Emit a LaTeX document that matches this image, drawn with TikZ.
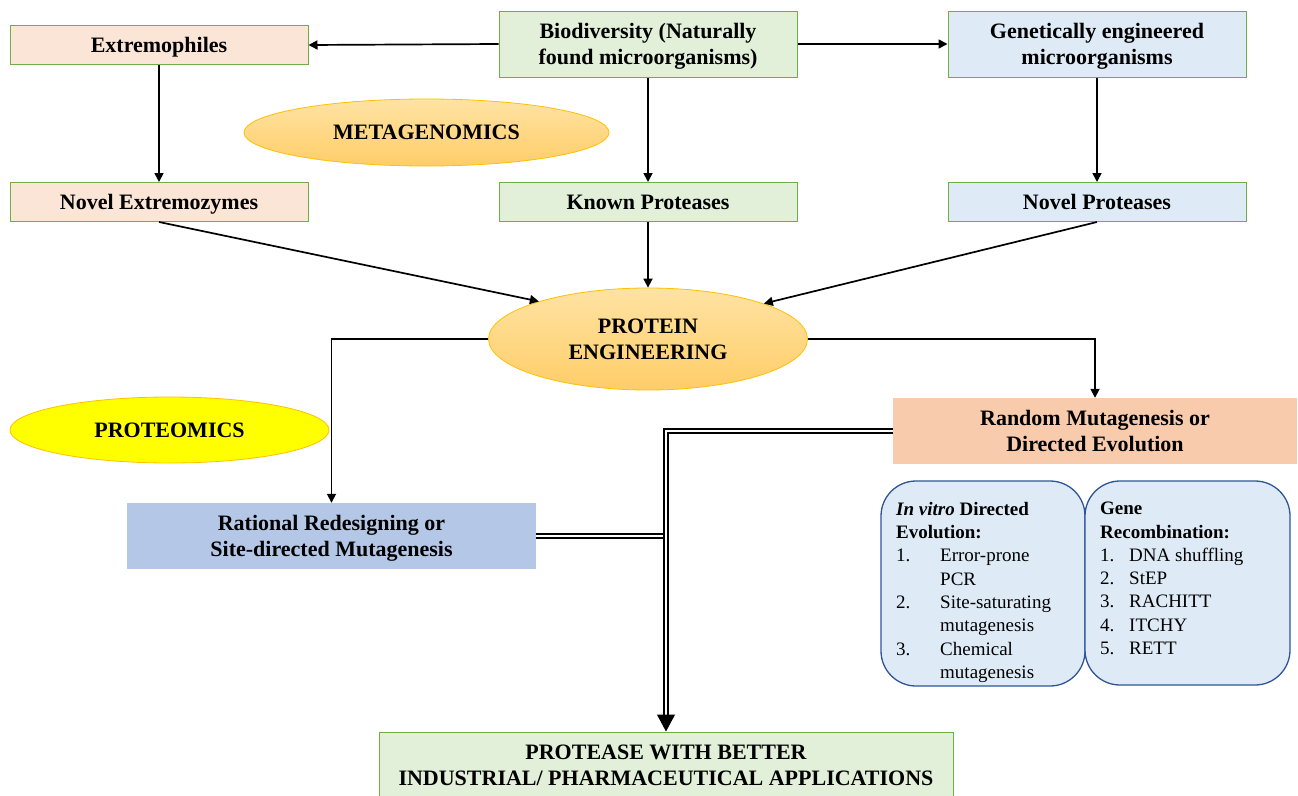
\documentclass[tikz,border=0pt]{standalone}
\usepackage{fontspec}
\setmainfont{Liberation Serif}
\usetikzlibrary{shapes.geometric,arrows.meta,calc}
\definecolor{peach}{HTML}{FBE5D6}
\definecolor{lgreen}{HTML}{E2F0D9}
\definecolor{lblue}{HTML}{DEEBF7}
\definecolor{bgreen}{HTML}{70AD47}
\definecolor{ratblue}{HTML}{B4C7E7}
\definecolor{randpeach}{HTML}{F8CBAD}
\definecolor{rborder}{HTML}{2F5597}
\definecolor{goldtop}{HTML}{FFE3A3}
\definecolor{goldbot}{HTML}{FFCD68}
\definecolor{goldline}{HTML}{FFC000}
\definecolor{yel}{HTML}{FFFF00}
\newcommand\bigbf{\fontsize{22}{26}\selectfont\bfseries}
\newcommand\listfnt{\fontsize{19}{23.3}\selectfont}
\tikzset{
  box/.style={draw=bgreen, line width=1pt, minimum width=298pt, minimum height=39pt, inner sep=0pt, align=center, font=\bigbf},
  plainbox/.style={inner sep=0pt, align=center, font=\bigbf},
  oneline/.style={text depth=0pt},
  twoline/.style={text depth=0pt},
  oval/.style={ellipse, draw=goldline, line width=0.8pt, top color=goldtop, bottom color=goldbot, inner sep=0pt, align=center, font=\bigbf},
  rbox/.style={draw=rborder, fill=lblue, line width=1.3pt, rounded corners=35pt, inner sep=0pt},
  listtxt/.style={inner sep=0pt, align=left, font=\listfnt},
  arr/.style={-{Triangle[length=9pt,width=9pt]}, line width=1.7pt},
  dbl/.style={draw=black, double=white, line width=1.5pt, double distance=2.2pt},
}
\begin{document}
\begin{tikzpicture}[x=1pt,y=-1pt]
\useasboundingbox (0,0) rectangle (1298,795);
\clip (0,0) rectangle (1298,795);
% top row
\node[box, oneline, fill=peach] (extremo) at (159,45) {Extremophiles};
\node[box, twoline, fill=lgreen, minimum height=66pt] (bio) at (648,44) {Biodiversity (Naturally\\found microorganisms)};
\node[box, twoline, fill=lblue, minimum height=66pt] (gen) at (1097,44) {Genetically engineered\\microorganisms};
\node[oval, oneline, minimum width=365pt, minimum height=67pt] (meta) at (426.5,132.5) {METAGENOMICS};
% second row
\node[box, oneline, fill=peach] (novext) at (159,202) {Novel Extremozymes};
\node[box, oneline, fill=lgreen] (known) at (648,202) {Known Proteases};
\node[box, oneline, fill=lblue] (novprot) at (1097,202) {Novel Proteases};
% protein engineering
\node[oval, twoline, minimum width=319pt, minimum height=102pt] (pe) at (648,339) {PROTEIN\\ENGINEERING};
\node[ellipse, oneline, draw=goldline, line width=0.8pt, fill=yel, minimum width=319pt, minimum height=66pt, inner sep=0pt, font=\bigbf] (prot) at (169.5,430) {PROTEOMICS};
\node[plainbox, twoline, fill=ratblue, minimum width=409pt, minimum height=66pt] (rat) at (331.5,536) {Rational Redesigning or\\Site-directed Mutagenesis};
\node[plainbox, twoline, fill=randpeach, minimum width=404pt, minimum height=66pt] (rand) at (1095,431) {Random Mutagenesis or\\Directed Evolution};
% rounded boxes
\node[rbox, minimum width=204pt, minimum height=205pt] (invitro) at (983,583.5) {};
\node[rbox, minimum width=205pt, minimum height=204pt] (generec) at (1187.5,583) {};
\node[listtxt, anchor=north west] (invtxt) at (896,502) {\textbf{\textit{In vitro} Directed}\\\textbf{Evolution:}\\\makebox[44pt][l]{1.}Error-prone\\\hspace*{44pt}PCR\\\makebox[44pt][l]{2.}Site-saturating\\\hspace*{44pt}mutagenesis\\\makebox[44pt][l]{3.}Chemical\\\hspace*{44pt}mutagenesis};
\node[listtxt, anchor=north west] (gentxt) at (1100,502) {\textbf{Gene}\\\textbf{Recombination:}\\\makebox[29pt][l]{1.}DNA shuffling\\\makebox[29pt][l]{2.}StEP\\\makebox[29pt][l]{3.}RACHITT\\\makebox[29pt][l]{4.}ITCHY\\\makebox[29pt][l]{5.}RETT};
% final
\node[box, twoline, fill=lgreen, minimum width=574pt, minimum height=67pt] (final) at (666,765.5) {PROTEASE WITH BETTER\\INDUSTRIAL/ PHARMACEUTICAL APPLICATIONS};
% arrows
\draw[arr] (bio.west) -- (extremo.east);
\draw[arr] (bio.east) -- (gen.west);
\draw[arr] (extremo) -- (novext);
\draw[arr] (bio) -- (known);
\draw[arr] (gen) -- (novprot);
\draw[arr] (novext.south) -- (pe.161.6);
\draw[arr] (known) -- (pe);
\draw[arr] (novprot.south) -- (pe.17.7);
\draw[arr] (pe.west) -| (rat.north);
\draw[arr] (pe.east) -| (rand.north);
% double connectors
\coordinate (tipstart) at ($(final.north)+(0,-17)$);
\draw[dbl] (rat.east) -- (rat.east -| tipstart);
\draw[dbl] (rand.west) -| (tipstart);
\draw[-{Triangle[width=18pt,length=17pt]}, line width=1pt] (tipstart) -- (final.north);
\end{tikzpicture}
\end{document}
